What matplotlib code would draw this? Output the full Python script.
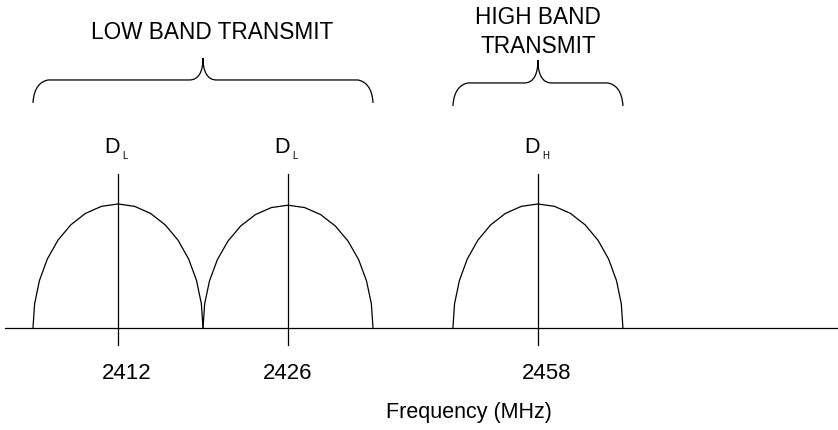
import numpy as np
import matplotlib.pyplot as plt
from matplotlib.path import Path
from matplotlib.patches import PathPatch

# channel data (MHz) and labels
freqs = [2412, 2426, 2458]
channel_names = ["L", "L", "H"]
peak_level = [1.0, 0.99, 1.0]
half_bw = 0.5            # half bandwidth, in channel-slot units

# schematic slot of each channel on the (non-linear) drawing axis
slots = [0.0, 1.0, 2.47]
label_nudge = [0.05, 0.0, 0.05]

plt.rcParams['font.family'] = ['Liberation Sans', 'DejaVu Sans']
FS = 15.5
FS_CAPS = 16.3

fig = plt.figure(figsize=(8.38, 4.30), dpi=100)
ax = fig.add_axes([0, 0, 1, 1])
ax.set_xlim(-0.694, 4.235)
ax.set_ylim(-0.823, 2.645)
ax.axis('off')

lw = 0.9
# frequency axis
ax.plot([-0.665, 4.235], [0, 0], color='black', lw=lw)

# channel humps (coarse polygon of a half ellipse)
t = np.linspace(0, np.pi, 17)
for s, h in zip(slots, peak_level):
    ax.plot(s + half_bw * np.cos(t), h * np.sin(t), color='black', lw=lw)
    ax.plot([s, s], [-0.137, 1.242], color='black', lw=lw)


def brace(x0, x1, yb, yh, yt, dx_end=0.09, dx_mid=0.08):
    xm = (x0 + x1) / 2
    verts = [
        (x0, yb), (x0 + 0.005, yh - 0.06), (x0 + dx_end * 0.5, yh - 0.01), (x0 + dx_end, yh),
        (xm - dx_mid, yh),
        (xm - dx_mid * 0.3, yh), (xm, yh + (yt - yh) * 0.4), (xm, yt),
        (xm, yh + (yt - yh) * 0.4), (xm + dx_mid * 0.3, yh), (xm + dx_mid, yh),
        (x1 - dx_end, yh),
        (x1 - dx_end * 0.5, yh - 0.01), (x1 - 0.005, yh - 0.06), (x1, yb),
    ]
    codes = [Path.MOVETO, Path.CURVE4, Path.CURVE4, Path.CURVE4,
             Path.LINETO,
             Path.CURVE4, Path.CURVE4, Path.CURVE4,
             Path.CURVE4, Path.CURVE4, Path.CURVE4,
             Path.LINETO,
             Path.CURVE4, Path.CURVE4, Path.CURVE4]
    ax.add_patch(PathPatch(Path(verts, codes), fill=False, lw=lw, ec='black'))


# low band brace spans the first two channels, high band the third
brace(slots[0] - half_bw, slots[1] + half_bw, 1.815, 2.0, 2.177)
brace(slots[2] - half_bw, slots[2] + half_bw, 1.79, 1.976, 2.16)

ax.text((slots[0] + slots[1]) / 2 + 0.056, 2.383, "LOW BAND TRANSMIT",
        ha='center', va='center', fontsize=FS_CAPS)
ax.text(slots[2], 2.50, "HIGH BAND", ha='center', va='center', fontsize=FS_CAPS)
ax.text(slots[2], 2.274, "TRANSMIT", ha='center', va='center', fontsize=FS_CAPS)

# channel designators and frequency labels
for s, name, f, nud in zip(slots, channel_names, freqs, label_nudge):
    ax.text(s + 0.01, 1.411, "D", ha='right', va='baseline', fontsize=FS)
    ax.text(s + 0.025, 1.363, name, ha='left', va='baseline', fontsize=7)
    ax.text(s + nud, -0.37, str(f), ha='center', va='center', fontsize=16)

ax.text(2.065, -0.685, "Frequency (MHz)", ha='center', va='center', fontsize=FS)

fig.savefig('out.png', dpi=100)
